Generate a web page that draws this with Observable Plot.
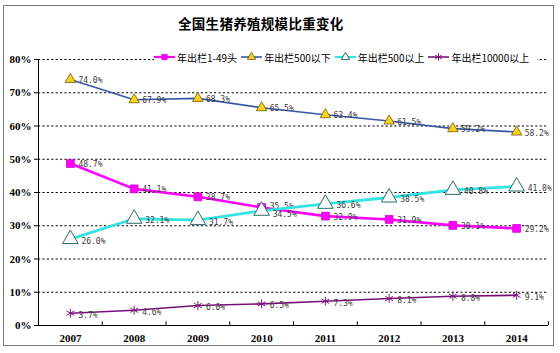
<!DOCTYPE html>
<html><head><meta charset="utf-8">
<script src="https://cdn.jsdelivr.net/npm/d3@7"></script>
<script src="https://cdn.jsdelivr.net/npm/@observablehq/plot@0.6"></script>
<style>
body{margin:0;background:#fff;}
#wrap{position:relative;width:560px;height:353px;overflow:hidden;background:#fff;font-family:"Noto Sans CJK SC","Noto Sans",sans-serif;}
#chart{position:absolute;left:0;top:0;}
#frame{position:absolute;left:3px;top:5px;width:551px;height:341px;border:1px solid #7a7a7a;box-sizing:border-box;pointer-events:none;}
#title{position:absolute;top:13px;left:178px;font-size:13.5px;font-weight:bold;color:#000;white-space:nowrap;letter-spacing:0.3px;}
#legend{position:absolute;top:49px;left:154px;height:16px;display:flex;align-items:center;background:#fff;font-size:10px;color:#000;white-space:nowrap;padding-right:4px;}
#legend .item{display:flex;align-items:center;margin-right:4px;}
#legend svg{margin-right:2px;}
</style>
</head><body>
<div id="wrap">
  <div id="chart"></div>
  <div id="title">全国生猪养殖规模比重变化</div>
  <div id="legend"></div>
  <div id="frame"></div>
</div>
<script>
const years = [2007, 2008, 2009, 2010, 2011, 2012, 2013, 2014];
const seriesNames = ["年出栏1-49头", "年出栏500以下", "年出栏500以上", "年出栏10000以上"];
const small = [48.7, 41.1, 38.7, 35.5, 32.9, 31.9, 30.1, 29.2];
const below500 = [74.0, 67.9, 68.3, 65.5, 63.4, 61.5, 59.2, 58.2];
const above500 = [26.0, 32.1, 31.7, 34.5, 36.6, 38.5, 40.8, 41.8];
const above10000 = [3.7, 4.6, 6.0, 6.5, 7.3, 8.1, 8.8, 9.1];
const yTicks = [0, 10, 20, 30, 40, 50, 60, 70, 80];

const seriesValues = [small, below500, above500, above10000];
const styles = [
  {line: "#ff00ff", width: 2.6, symbol: "square", r: 4.4, fill: "#ff00ff", stroke: "#d000d0", sw: 0.8, dx: 8, dy: 1, crowd: "bottom"},
  {line: "#3a56a8", width: 1.6, symbol: "triangle", r: 3.9, fill: "#ffd21a", stroke: "#6b5a10", sw: 0.8, dx: 8, dy: 1, crowd: null},
  {line: "#35e3e3", width: 2.8, symbol: "triangle", r: 5.8, fill: "#ffffff", stroke: "#2c6b6b", sw: 1, dx: 11, dy: 2, crowd: "top"},
  {line: "#7a0f7a", width: 1.6, symbol: "asterisk", r: 4.2, fill: "none", stroke: "#7a1a7a", sw: 1, dx: 8, dy: 2, crowd: null}
];

// points where the 1-49 and 500以上 labels would sit on top of each other
const crowded = years.map((y, j) => Math.abs(small[j] - above500[j]) < 2.5);

const rows = seriesValues.map((vals, i) => years.map((yr, j) => ({series: seriesNames[i], year: yr, value: vals[j], crowded: crowded[j]})));
const bounds = years.map(y => y + 0.5);
const xMin = years[0] - 0.5, xMax = years[years.length - 1] + 0.5;

const marks = [
  Plot.ruleY(yTicks.filter(d => d > 0), {stroke: "#000", strokeDasharray: "2.2,2.2", strokeWidth: 1}),
  Plot.ruleY([0], {stroke: "#000", strokeWidth: 1}),
  Plot.ruleX([xMin], {stroke: "#000", strokeWidth: 1}),
  Plot.ruleX(bounds, {x: d => d, y1: 0, y2: 1.1, stroke: "#000"}),
  Plot.axisY({ticks: yTicks, tickFormat: d => d + "%", tickSize: 4, tickPadding: 3, label: null,
    fontWeight: "bold", fontSize: 11, fontFamily: "Liberation Serif", fill: "#000"}),
  Plot.axisX({ticks: years, tickFormat: d => String(d), tickSize: 0, tickPadding: 9, label: null,
    fontWeight: "bold", fontSize: 11, fontFamily: "Liberation Serif", fill: "#000"})
];
const labelOpts = {x: "year", y: "value", text: d => d.value.toFixed(1) + "%", textAnchor: "start",
  fontSize: 8, fontFamily: "DejaVu Sans Mono", fill: "#3a3a3a"};
rows.forEach((data, i) => {
  const s = styles[i];
  marks.push(Plot.line(data, {x: "year", y: "value", stroke: s.line, strokeWidth: s.width}));
  marks.push(Plot.dot(data, {x: "year", y: "value", symbol: s.symbol, r: s.r, fill: s.fill, stroke: s.stroke, strokeWidth: s.sw}));
  if (s.crowd) {
    marks.push(Plot.text(data, {...labelOpts, filter: d => !d.crowded, dx: s.dx, dy: s.dy}));
    marks.push(Plot.text(data, {...labelOpts, filter: d => d.crowded, dx: s.dx, dy: s.crowd === "top" ? 1 : 2, lineAnchor: s.crowd}));
  } else {
    marks.push(Plot.text(data, {...labelOpts, dx: s.dx, dy: s.dy}));
  }
});

const chart = Plot.plot({
  width: 560, height: 353,
  marginLeft: 38, marginRight: 12, marginTop: 59, marginBottom: 28,
  x: {domain: [xMin, xMax], axis: null},
  y: {domain: [0, 80], axis: null},
  style: {background: "transparent", overflow: "visible"},
  marks
});
document.getElementById("chart").appendChild(chart);

// legend
const leg = document.getElementById("legend");
seriesNames.forEach((name, i) => {
  const s = styles[i];
  const item = document.createElement("span");
  item.className = "item";
  const w = 21, h = 12;
  const sym = d3.symbol().type(
    s.symbol === "square" ? d3.symbolSquare : s.symbol === "triangle" ? d3.symbolTriangle : d3.symbolAsterisk
  ).size(s.symbol === "triangle" ? 30 : s.symbol === "square" ? 28 : 40)();
  item.innerHTML = `<svg width="${w}" height="${h}"><line x1="0" x2="${w}" y1="${h/2}" y2="${h/2}" stroke="${s.line}" stroke-width="${Math.min(s.width, 2.2)}"/>` +
    `<path d="${sym}" transform="translate(${w/2},${h/2})" fill="${s.fill}" stroke="${s.stroke}" stroke-width="${s.sw}"/></svg><span>${name}</span>`;
  leg.appendChild(item);
});
</script>
</body></html>
